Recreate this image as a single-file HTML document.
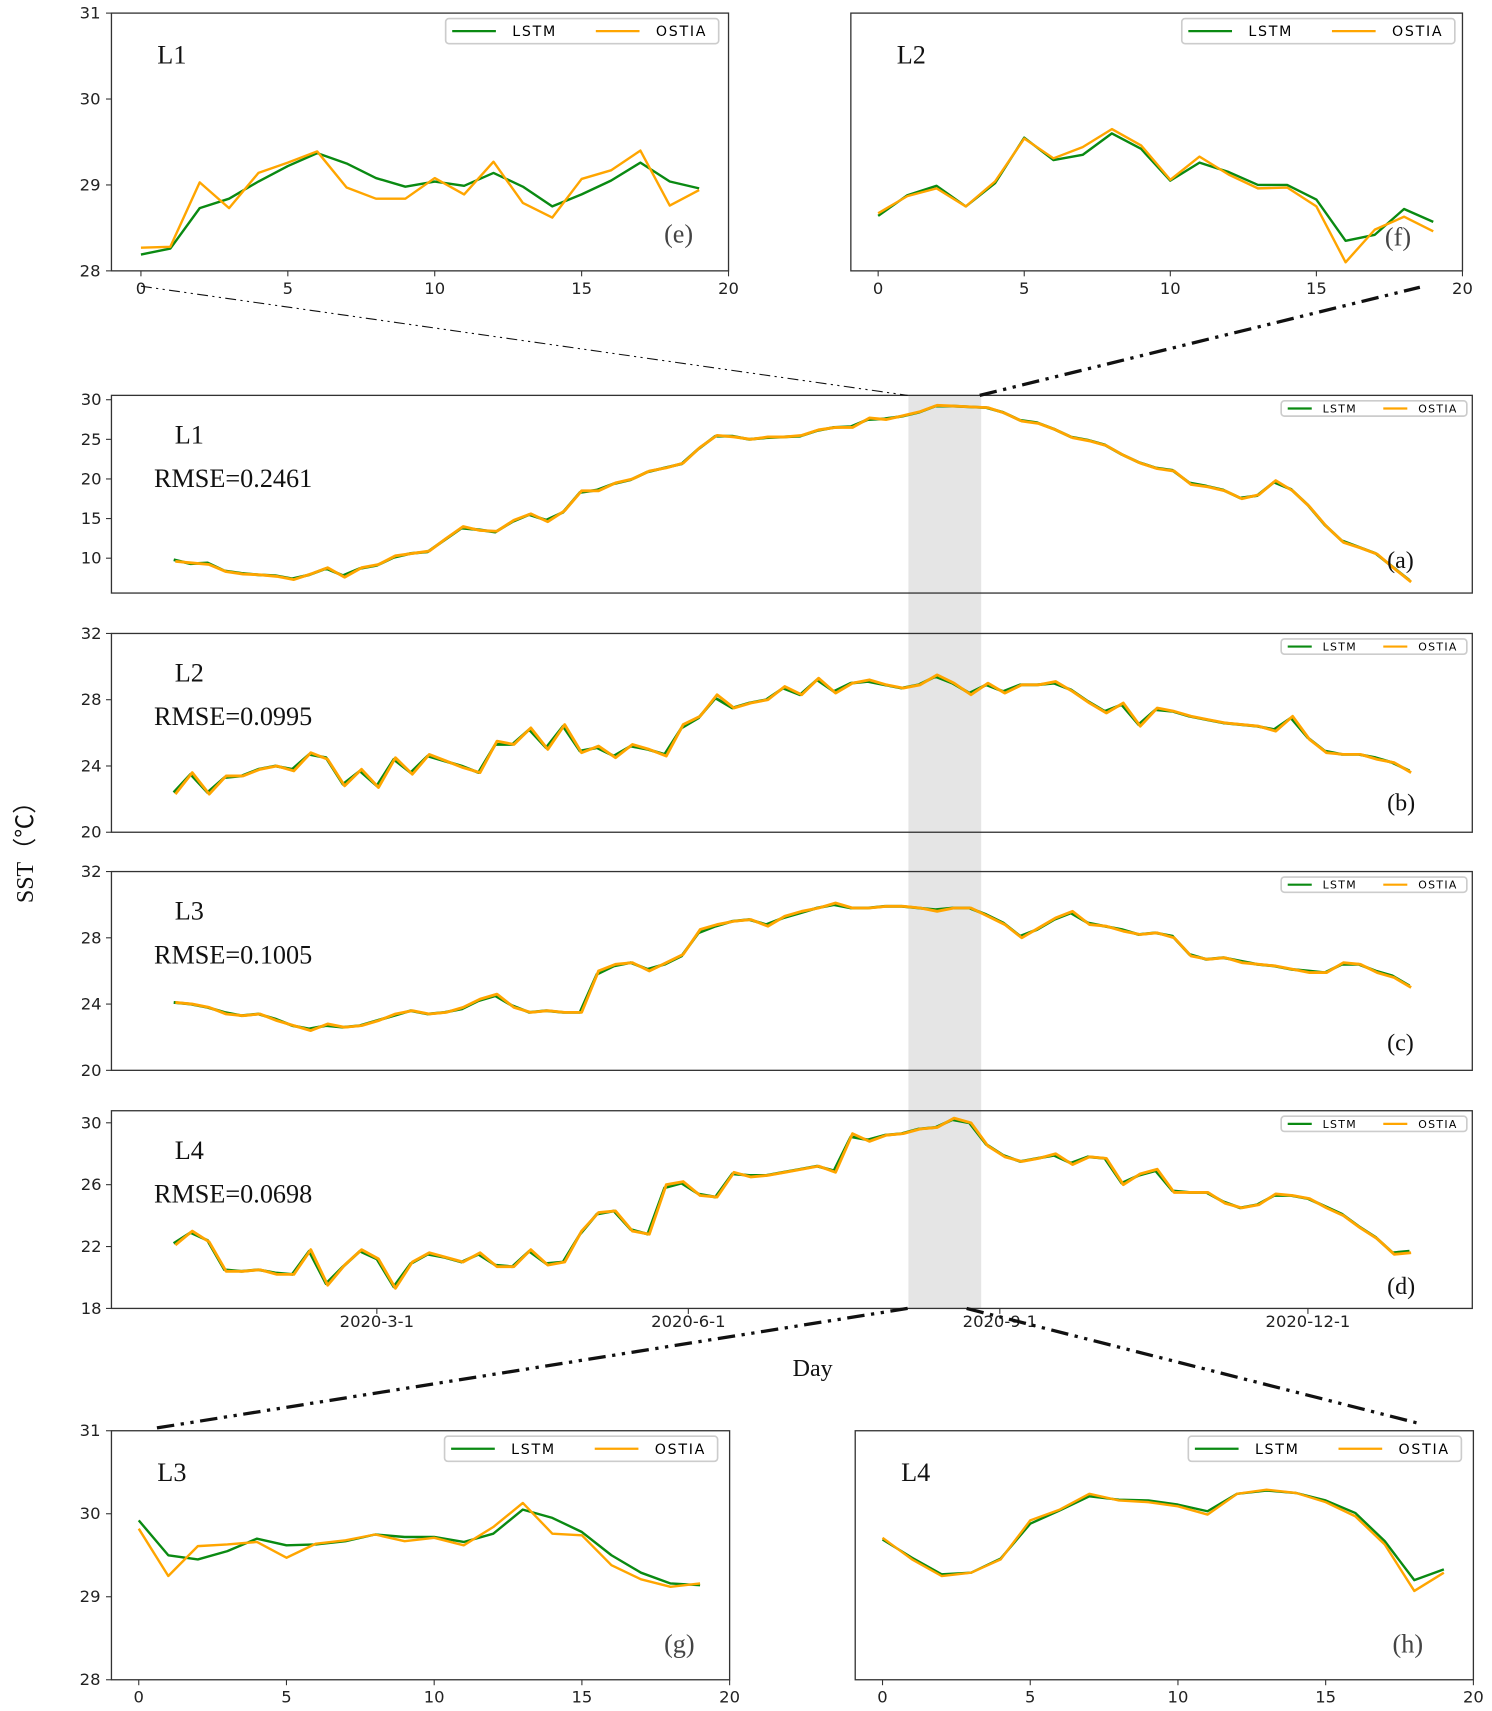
<!DOCTYPE html>
<html><head><meta charset="utf-8"><style>
html,body{margin:0;padding:0;background:#fff;}
svg{display:block;}
text{font-family:"DejaVu Sans","Liberation Sans",sans-serif;}
.serif{font-family:"Liberation Serif",serif;}
</style></head><body>
<svg id="chart" xmlns="http://www.w3.org/2000/svg" width="1492" height="1711" viewBox="0 0 1366 1566.6"></svg>
<script>
// ===== Main panel data (every 5 days from day 0) =====
const mainDays = [0,5,10,15,20,25,30,35,40,45,50,55,60,65,70,75,80,85,90,95,100,105,110,115,120,125,130,135,140,145,150,155,160,165,170,175,180,185,190,195,200,205,210,215,220,225,230,235,240,245,250,255,260,265,270,275,280,285,290,295,300,305,310,315,320,325,330,335,340,345,350,355,360,365];
const dateTicks = [60,152,244,335];
const dateTickLabels = ["2020-3-1","2020-6-1","2020-9-1","2020-12-1"];
const aOstia = [9.6,9.4,9.2,8.3,8.0,7.9,7.7,7.3,8.0,8.8,7.6,8.8,9.2,10.3,10.6,10.9,12.5,14.0,13.5,13.4,14.8,15.6,14.6,16.0,18.5,18.5,19.5,20,21,21.4,22,24,25.5,25.3,25,25.3,25.3,25.5,26.2,26.5,26.5,27.7,27.5,28,28.5,29.3,29.2,29.1,29.0,28.3,27.3,27.0,26.2,25.2,24.8,24.2,23.0,22.0,21.3,21.0,19.3,19.0,18.5,17.5,18.0,19.8,18.5,16.5,14.0,12.0,11.3,10.5,8.7,7.0];
const aLstm = [9.8,9.3,9.4,8.4,8.1,7.9,7.8,7.4,7.9,8.7,7.8,8.7,9.1,10.1,10.6,10.8,12.3,13.8,13.6,13.3,14.6,15.5,14.8,15.8,18.3,18.6,19.4,19.9,20.9,21.4,21.9,23.8,25.4,25.4,25.0,25.2,25.3,25.4,26.1,26.5,26.6,27.5,27.6,27.9,28.4,29.2,29.2,29.1,29.0,28.4,27.4,27.1,26.3,25.3,24.9,24.3,23.1,22.1,21.4,21.1,19.5,19.1,18.6,17.6,17.9,19.6,18.7,16.7,14.2,12.2,11.4,10.6,8.9,7.2];
const bOstia = [22.3,23.6,22.3,23.4,23.4,23.8,24.0,23.7,24.8,24.4,22.8,23.8,22.7,24.5,23.5,24.7,24.3,23.9,23.6,25.5,25.3,26.3,25.0,26.5,24.8,25.2,24.5,25.3,25.0,24.6,26.5,27.0,28.3,27.5,27.8,28.0,28.8,28.3,29.3,28.4,29.0,29.2,28.9,28.7,28.9,29.5,29.0,28.3,29.0,28.4,28.9,28.9,29.1,28.5,27.8,27.2,27.8,26.4,27.5,27.3,27.0,26.8,26.6,26.5,26.4,26.1,27.0,25.6,24.8,24.7,24.7,24.4,24.2,23.6];
const bLstm = [22.4,23.5,22.4,23.3,23.4,23.8,24.0,23.8,24.7,24.5,22.9,23.7,22.8,24.4,23.6,24.6,24.3,24.0,23.6,25.3,25.3,26.2,25.1,26.4,24.9,25.1,24.6,25.2,25.0,24.7,26.3,26.9,28.1,27.5,27.8,28.0,28.7,28.3,29.2,28.5,29.0,29.1,28.9,28.7,28.9,29.4,29.0,28.4,28.9,28.5,28.9,28.9,29.0,28.6,27.9,27.3,27.7,26.5,27.4,27.3,27.0,26.8,26.6,26.5,26.4,26.2,26.9,25.7,24.9,24.7,24.7,24.5,24.2,23.7];
const cOstia = [24.1,24.0,23.8,23.4,23.3,23.4,23.0,22.7,22.4,22.8,22.6,22.7,23.0,23.4,23.6,23.4,23.5,23.8,24.3,24.6,23.8,23.5,23.6,23.5,23.5,26.0,26.4,26.5,26.0,26.5,27.0,28.5,28.8,29.0,29.1,28.7,29.3,29.6,29.8,30.1,29.8,29.8,29.9,29.9,29.8,29.6,29.8,29.8,29.3,28.8,28.0,28.6,29.2,29.6,28.8,28.7,28.4,28.2,28.3,28.0,26.9,26.7,26.8,26.5,26.4,26.3,26.1,25.9,25.9,26.5,26.4,25.9,25.6,25.0];
const cLstm = [24.1,24.0,23.8,23.5,23.3,23.4,23.1,22.7,22.5,22.7,22.6,22.7,23.0,23.3,23.6,23.4,23.5,23.7,24.2,24.5,23.9,23.5,23.6,23.5,23.5,25.8,26.3,26.5,26.1,26.4,26.9,28.3,28.7,29.0,29.1,28.8,29.2,29.5,29.8,30.0,29.8,29.8,29.9,29.9,29.8,29.7,29.8,29.8,29.4,28.9,28.1,28.5,29.1,29.5,28.9,28.7,28.5,28.2,28.3,28.1,27.0,26.7,26.8,26.6,26.4,26.3,26.1,26.0,25.9,26.4,26.4,26.0,25.7,25.1];
const dOstia = [22.1,23.0,22.3,20.4,20.4,20.5,20.2,20.2,21.8,19.5,20.8,21.8,21.2,19.3,21.0,21.6,21.3,21.0,21.6,20.7,20.7,21.8,20.8,21.0,23.0,24.2,24.3,23.0,22.8,26.0,26.2,25.3,25.2,26.8,26.5,26.6,26.8,27.0,27.2,26.8,29.3,28.8,29.2,29.3,29.6,29.7,30.3,30.0,28.5,27.8,27.5,27.7,28.0,27.3,27.8,27.7,26.0,26.7,27.0,25.5,25.5,25.5,24.8,24.5,24.7,25.4,25.3,25.1,24.5,24.0,23.2,22.5,21.5,21.6];
const dLstm = [22.2,22.9,22.4,20.5,20.4,20.5,20.3,20.2,21.7,19.6,20.7,21.7,21.2,19.4,20.9,21.5,21.3,21.0,21.5,20.8,20.7,21.7,20.9,21.0,22.8,24.1,24.3,23.1,22.8,25.8,26.1,25.4,25.2,26.7,26.6,26.6,26.8,27.0,27.2,26.9,29.1,28.9,29.2,29.3,29.6,29.7,30.2,30.0,28.6,27.9,27.5,27.7,27.9,27.4,27.8,27.7,26.1,26.6,26.9,25.6,25.5,25.5,24.9,24.5,24.7,25.3,25.3,25.1,24.6,24.1,23.3,22.6,21.6,21.7];
// ===== Zoom panel data (20 days) =====
const zoomDays = [0,1,2,3,4,5,6,7,8,9,10,11,12,13,14,15,16,17,18,19];
const eOstia = [28.27,28.28,29.03,28.73,29.14,29.26,29.39,28.97,28.84,28.84,29.08,28.89,29.27,28.79,28.62,29.07,29.17,29.40,28.76,28.94];
const eLstm = [28.19,28.26,28.73,28.84,29.04,29.22,29.37,29.25,29.08,28.98,29.04,28.99,29.14,28.98,28.75,28.89,29.05,29.26,29.04,28.96];
const fOstia = [28.67,28.87,28.96,28.75,29.04,29.54,29.31,29.44,29.65,29.46,29.06,29.33,29.12,28.96,28.97,28.75,28.10,28.48,28.63,28.46];
const fLstm = [28.64,28.88,28.99,28.75,29.02,29.55,29.29,29.35,29.60,29.42,29.05,29.26,29.15,29.00,29.00,28.83,28.35,28.42,28.72,28.57];
const gOstia = [29.82,29.25,29.61,29.63,29.66,29.47,29.64,29.68,29.75,29.67,29.71,29.62,29.84,30.13,29.76,29.74,29.38,29.21,29.12,29.16];
const gLstm = [29.92,29.50,29.45,29.55,29.70,29.62,29.63,29.67,29.75,29.72,29.72,29.66,29.76,30.05,29.95,29.78,29.50,29.29,29.16,29.14];
const hOstia = [29.71,29.45,29.25,29.29,29.45,29.92,30.05,30.24,30.16,30.14,30.09,29.99,30.24,30.29,30.25,30.14,29.97,29.63,29.07,29.29];
const hLstm = [29.69,29.47,29.27,29.29,29.46,29.88,30.04,30.21,30.17,30.16,30.11,30.03,30.24,30.28,30.25,30.16,30.01,29.67,29.20,29.33];
const zoomTicks = [0,5,10,15,20];
const zoomYTicks = [28,29,30,31];

const NS = "http://www.w3.org/2000/svg";
const svg = document.getElementById('chart');
function mk(tag, attrs, parent, txt){
  const el = document.createElementNS(NS, tag);
  for (const k in attrs) el.setAttribute(k, attrs[k]);
  if (txt !== undefined) el.textContent = txt;
  (parent||svg).appendChild(el);
  return el;
}
const GREEN = "#0a8a12", ORANGE = "#ffa500";

function linePath(xs, ys, sx, sy){
  return xs.map((d,i)=>(i?'L':'M')+sx(d).toFixed(2)+','+sy(ys[i]).toFixed(2)).join('');
}

function legend(g, x0, y0, w, h, fs, lineLen, gap){
  const box = mk('rect',{x:x0,y:y0,width:w,height:h,rx:3,fill:'#fff',stroke:'#cccccc','stroke-width':1.5},g);
  
  
  const cy = y0+h/2;
  const l1 = mk('line',{x1:x0+6,y1:cy,x2:x0+6+lineLen,y2:cy,stroke:GREEN,'stroke-width':2},g);
  
  
  const t1 = mk('text',{x:x0+6+lineLen+gap,y:cy+fs*0.36,'font-size':fs,'letter-spacing':fs*0.12},g,'LSTM');
  
  
  const xo = x0 + w*0.55;
  const l2 = mk('line',{x1:xo,y1:cy,x2:xo+lineLen,y2:cy,stroke:ORANGE,'stroke-width':2},g);
  
  
  const t2 = mk('text',{x:xo+lineLen+gap,y:cy+fs*0.36,'font-size':fs,'letter-spacing':fs*0.12},g,'OSTIA');
  
  
}

// ---------- Zoom panels ----------
function zoomPanel(name, L, R, T, B, x0px, lstm, ostia, label, tag, showY, legendX, tagX, tagY){
  const g = mk('g',{});
  
  
  const unit = (R - x0px)/20;
  const sx = d => x0px + d*unit;
  const sy = v => B - (v-28)/3*(B-T);
  const frame = mk('rect',{x:L,y:T,width:R-L,height:B-T,fill:'#fff',stroke:'#333','stroke-width':1.2},g);
  
  
  zoomTicks.forEach(t=>{
    mk('line',{x1:sx(t),y1:B,x2:sx(t),y2:B+5,stroke:'#333','stroke-width':1},g);
    const tx = mk('text',{x:sx(t),y:B+21,'font-size':15,'text-anchor':'middle',fill:'#222'},g,String(t));
    
    
  });
  if (showY){
    zoomYTicks.forEach(t=>{
      mk('line',{x1:L-5,y1:sy(t),x2:L,y2:sy(t),stroke:'#333','stroke-width':1},g);
      const ty = mk('text',{x:L-10,y:sy(t)+5,'font-size':15,'text-anchor':'end',fill:'#222'},g,String(t));
      
      
    });
  }
  const pl = mk('path',{d:linePath(zoomDays,lstm,sx,sy),fill:'none',stroke:GREEN,'stroke-width':2.2,'stroke-linejoin':'round'},g);
  
  
  const po = mk('path',{d:linePath(zoomDays,ostia,sx,sy),fill:'none',stroke:ORANGE,'stroke-width':2.2,'stroke-linejoin':'round'},g);
  
  
  legend(g, legendX, T+5, 250, 23, 13, 40, 15);
  const lb = mk('text',{x:L+42,y:T+46,'font-size':24,class:'serif',fill:'#111'},g,label);
  
  
  const tg = mk('text',{x:tagX,y:tagY,'font-size':24,class:'serif',fill:'#444'},g,tag);
  
  
}

// ---------- Main panels ----------
const dayX = d => 159 + 3.1*d;
const mainPanels = [
  {name:'panel-a', T:362,B:543, lo:5.6, hi:30.55, ticks:[10,15,20,25,30], lab:'L1', rmse:'RMSE=0.2461', tag:'(a)', o:aOstia, l:aLstm, tagY:520},
  {name:'panel-b', T:580,B:762, lo:20, hi:32, ticks:[20,24,28,32], lab:'L2', rmse:'RMSE=0.0995', tag:'(b)', o:bOstia, l:bLstm, tagY:742},
  {name:'panel-c', T:798,B:980, lo:20, hi:32, ticks:[20,24,28,32], lab:'L3', rmse:'RMSE=0.1005', tag:'(c)', o:cOstia, l:cLstm, tagY:962},
  {name:'panel-d', T:1017,B:1198, lo:18, hi:30.78, ticks:[18,22,26,30], lab:'L4', rmse:'RMSE=0.0698', tag:'(d)', o:dOstia, l:dLstm, tagY:1185}
];
const ML = 102, MR = 1348;
// highlighted window (drawn first, white page behind)
const shade = mk('rect',{x:dayX(217),y:362,width:dayX(238.5)-dayX(217),height:836,fill:'#e5e5e5'});


mainPanels.forEach(p=>{
  const g = mk('g',{});
  
  
  const sy = v => p.B - (v-p.lo)/(p.hi-p.lo)*(p.B-p.T);
  const fr = mk('rect',{x:ML,y:p.T,width:MR-ML,height:p.B-p.T,fill:'none',stroke:'#333','stroke-width':1.2},g);
  
  
  p.ticks.forEach(t=>{
    mk('line',{x1:ML-5,y1:sy(t),x2:ML,y2:sy(t),stroke:'#333','stroke-width':1},g);
    const ty = mk('text',{x:ML-9,y:sy(t)+5,'font-size':15,'text-anchor':'end',fill:'#222'},g,String(t));
    
    
  });
  const pl = mk('path',{d:linePath(mainDays,p.l,dayX,sy),fill:'none',stroke:GREEN,'stroke-width':2.6,'stroke-linejoin':'round'},g);
  
  
  const po = mk('path',{d:linePath(mainDays,p.o,d=>dayX(d)+1.5,sy),fill:'none',stroke:ORANGE,'stroke-width':2.6,'stroke-linejoin':'round'},g);
  
  
  legend(g, 1173, p.T+5, 170, 14, 10, 22, 10);
  const lb = mk('text',{x:160,y:p.T+44,'font-size':24,class:'serif',fill:'#111'},g,p.lab);
  
  
  const rm = mk('text',{x:141,y:p.T+84,'font-size':24,class:'serif',fill:'#111'},g,p.rmse);
  
  
  const tg = mk('text',{x:1270,y:p.tagY,'font-size':22,class:'serif',fill:'#111'},g,p.tag);
  
  
});
// date ticks on bottom panel
dateTicks.forEach((d,i)=>{
  mk('line',{x1:dayX(d),y1:1198,x2:dayX(d),y2:1203,stroke:'#333','stroke-width':1});
  const t = mk('text',{x:dayX(d),y:1215,'font-size':15,'text-anchor':'middle',fill:'#222'},svg,dateTickLabels[i]);
  
  
});
const xt = mk('text',{x:744,y:1260,'font-size':22,class:'serif','text-anchor':'middle',fill:'#111'},svg,'Day');


const yt = mk('text',{x:0,y:0,'font-size':22,class:'serif','text-anchor':'middle',fill:'#111',transform:'translate(30,775) rotate(-90)'},svg,'SST（℃）');



// zoom panels
zoomPanel('panel-e',102,667,12,248,129,eLstm,eOstia,'L1','(e)',true,408,608,222);
zoomPanel('panel-f',779,1339,12,248,804,fLstm,fOstia,'L2','(f)',false,1082,1268,225);
zoomPanel('panel-g',102,668,1310,1538,127,gLstm,gOstia,'L3','(g)',true,407,608,1513);
zoomPanel('panel-h',783,1349,1310,1538,808,hLstm,hOstia,'L4','(h)',false,1088,1275,1513);

// connector lines
function conn(x1,y1,x2,y2,w,name){
  const l = mk('line',{x1:x1,y1:y1,x2:x2,y2:y2,stroke:'#111','stroke-width':w,'stroke-dasharray':w>2?'16,6,3,6,3,6':'10,4,2,4,2,4'});
  
  
}
conn(129,262,831,362,1,'connector-e-left');
conn(897,362,1300,263,3,'connector-f-right');
conn(831,1198,140,1308,3,'connector-g-left');
conn(885,1198,1302,1304,3,'connector-h-right');
</script>
</body></html>
